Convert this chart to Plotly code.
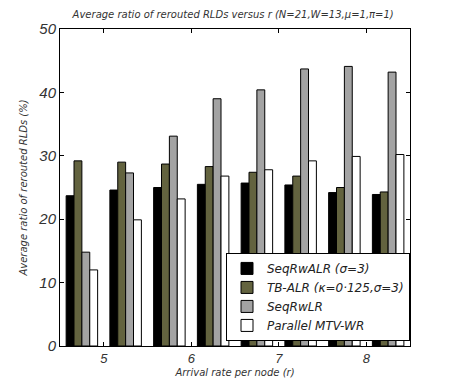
import plotly.graph_objects as go

x_pos = [4.75, 5.25, 5.75, 6.25, 6.75, 7.25, 7.75, 8.25]
tick_vals = [5, 6, 7, 8]
tick_text = ["5", "6", "7", "8"]

seqrwalr = [23.7, 24.6, 25.0, 25.5, 25.7, 25.4, 24.2, 23.9]
tbalr = [29.2, 29.0, 28.7, 28.3, 27.4, 26.8, 25.0, 24.3]
seqrwlr = [14.8, 27.3, 33.1, 39.0, 40.4, 43.7, 44.1, 43.2]
parallel = [12.0, 19.9, 23.2, 26.8, 27.8, 29.2, 29.9, 30.2]

names = ["SeqRwALR (σ=3)", "TB-ALR (κ=0·125,σ=3)", "SeqRwLR", "Parallel MTV-WR"]
colors = ["#000000", "#63633f", "#a3a3a3", "#ffffff"]
series = [seqrwalr, tbalr, seqrwlr, parallel]

fig = go.Figure()
for i, (n, c, s) in enumerate(zip(names, colors, series)):
    fig.add_trace(go.Bar(x=x_pos, y=s, name=n,
                         marker=dict(color=c, line=dict(color="#000000", width=1))))

font_it = "DejaVu Sans"
fig.update_layout(
    width=445, height=381,
    margin=dict(l=52, r=43, t=20, b=42),
    paper_bgcolor="white", plot_bgcolor="white",
    barmode="group", bargap=0.28, bargroupgap=0.0,
    title=dict(text="Average ratio of rerouted RLDs versus r (N=21,W=13,μ=1,π=1)",
               x=0.506, xanchor="center", y=0.984, yanchor="middle",
               font=dict(family=font_it, size=10, color="#333333", style="italic")),
    xaxis=dict(range=[4.5, 8.5], tickvals=tick_vals, ticktext=tick_text,
               showline=True, linecolor="#000000", linewidth=1, mirror="ticks",
               ticks="inside", ticklen=4, tickcolor="#000000", showgrid=False, zeroline=False,
               tickfont=dict(family="Liberation Sans", size=13, color="#333333", style="italic"),
               title=dict(text="Arrival rate per node (r)", standoff=4,
                          font=dict(family=font_it, size=10, color="#333333", style="italic"))),
    yaxis=dict(range=[0, 50], tickvals=[0, 10, 20, 30, 40, 50],
               showline=True, linecolor="#000000", linewidth=1, mirror="ticks",
               ticks="inside", ticklen=4, tickcolor="#000000", showgrid=False, zeroline=False,
               tickfont=dict(family="Liberation Sans", size=15, color="#333333", style="italic"),
               title=dict(text="Average ratio of rerouted RLDs (%)", standoff=8,
                          font=dict(family=font_it, size=10, color="#333333", style="italic"))),
    legend=dict(x=1.0, xanchor="right", y=0.016, yanchor="bottom",
                bgcolor="white", bordercolor="#000000", borderwidth=1,
                font=dict(family=font_it, size=12, color="#222222", style="italic"),
                itemwidth=30, traceorder="normal"),
    showlegend=True,
)
fig.write_html("out.html")
